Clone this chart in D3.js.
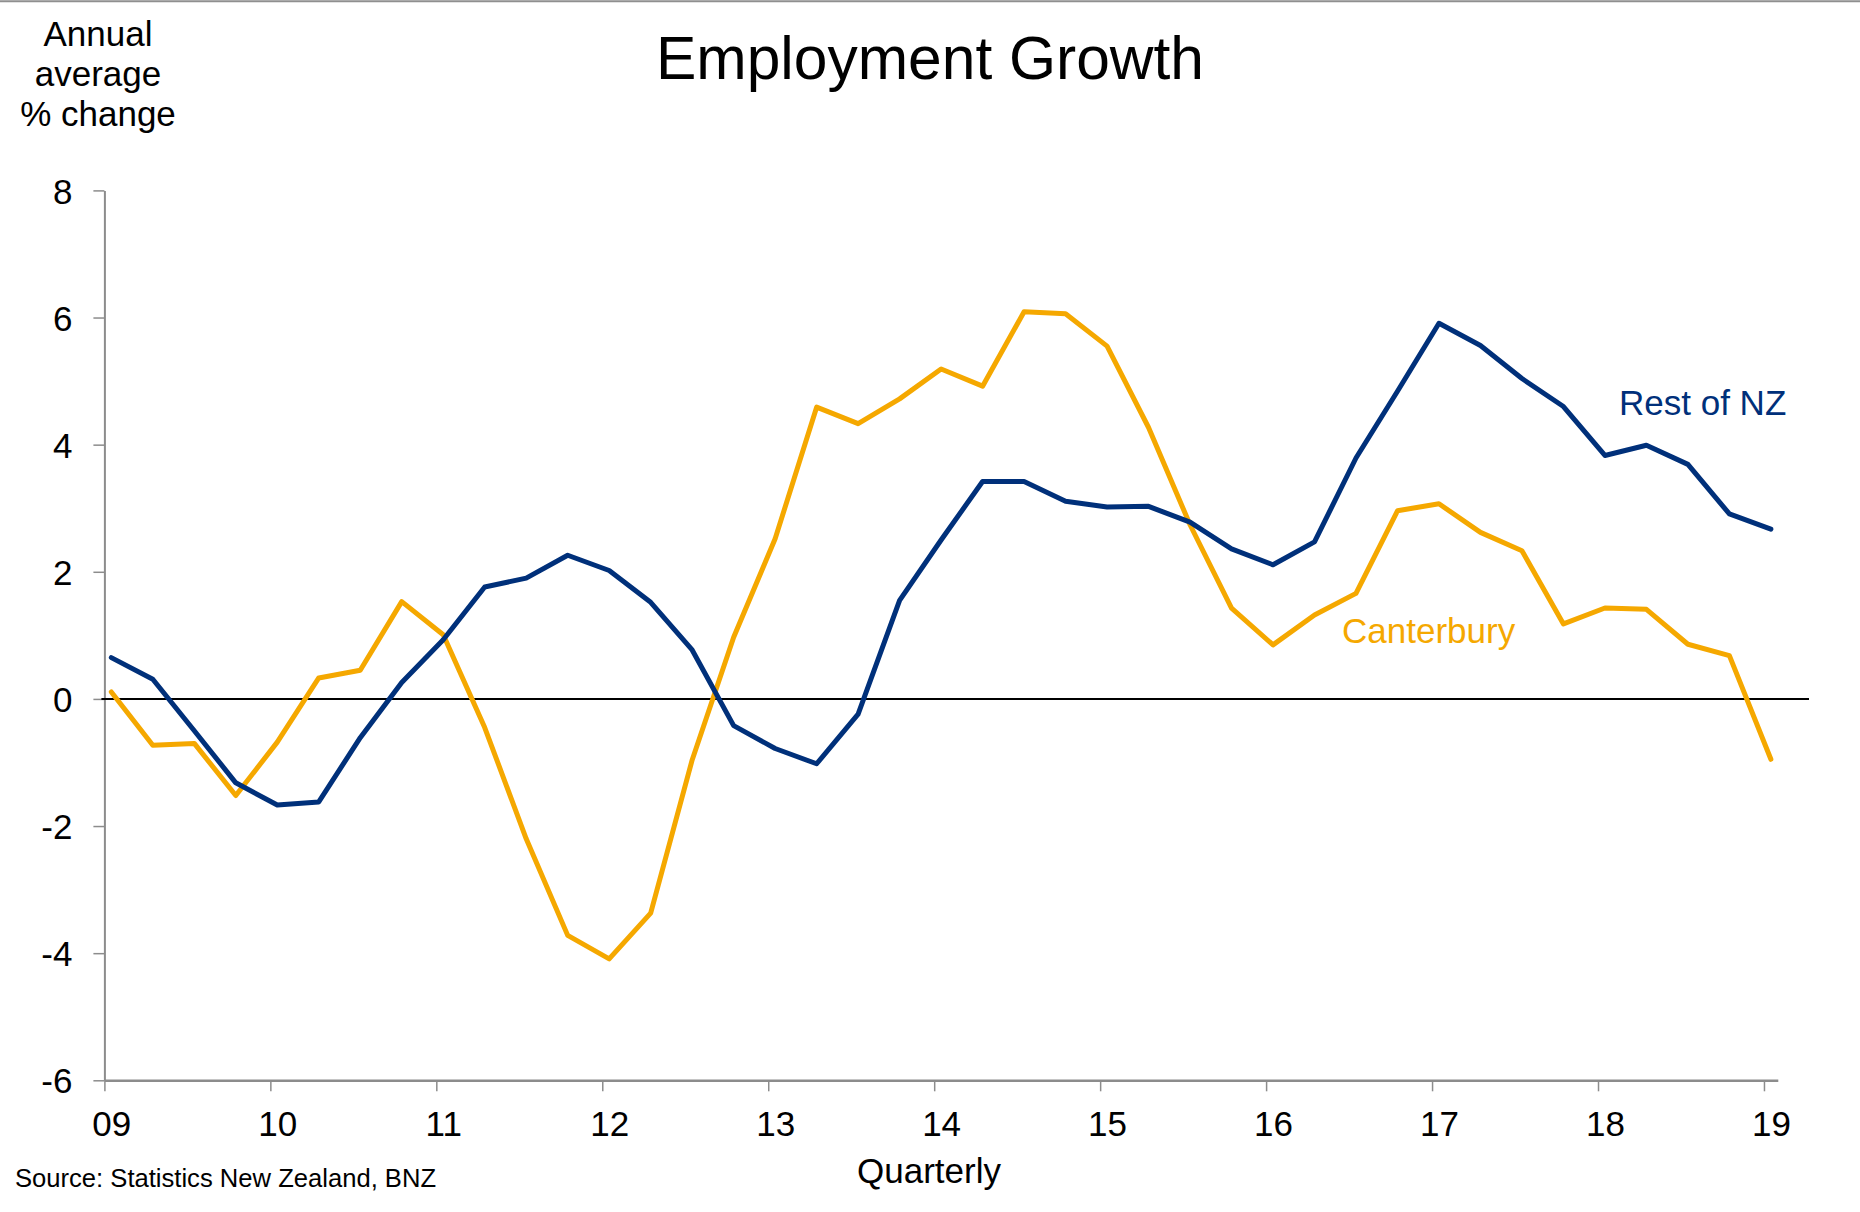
<!DOCTYPE html>
<html>
<head>
<meta charset="utf-8">
<script src="https://cdn.jsdelivr.net/npm/d3@7"></script>
<style>
  html, body { margin: 0; padding: 0; background: #ffffff; }
  svg { display: block; }
  text { font-family: "Liberation Sans", Arial, Helvetica, sans-serif; }
</style>
</head>
<body>
<script>
// ---- Data (annual average % change, quarterly, 2009Q1 .. 2019Q1) ----
const years = [2009, 2010, 2011, 2012, 2013, 2014, 2015, 2016, 2017, 2018, 2019];
const yearLabels = ["09", "10", "11", "12", "13", "14", "15", "16", "17", "18", "19"];
const yTicks = [-6, -4, -2, 0, 2, 4, 6, 8];

const quarters = [];
for (let yr = 2009; yr <= 2019; yr++) {
  for (let q = 1; q <= 4; q++) {
    if (yr === 2019 && q > 1) break;
    quarters.push({ year: yr, q: q });
  }
}

const restOfNZ = [
  0.65, 0.31, -0.50, -1.32,
  -1.67, -1.62, -0.61, 0.26,
  0.93, 1.76, 1.90, 2.26,
  2.02, 1.52, 0.77, -0.42,
  -0.78, -1.02, -0.24, 1.55,
  2.50, 3.42, 3.42, 3.11,
  3.02, 3.03, 2.78, 2.36,
  2.11, 2.47, 3.79, 4.84,
  5.91, 5.56, 5.04, 4.60,
  3.83, 3.99, 3.69, 2.91,
  2.67
];

const canterbury = [
  0.11, -0.73, -0.70, -1.52,
  -0.68, 0.33, 0.45, 1.53,
  1.01, -0.45, -2.20, -3.72,
  -4.09, -3.37, -0.96, 0.97,
  2.52, 4.59, 4.33, 4.72,
  5.19, 4.92, 6.09, 6.06,
  5.55, 4.27, 2.74, 1.43,
  0.85, 1.32, 1.66, 2.96,
  3.07, 2.62, 2.33, 1.18,
  1.43, 1.41, 0.86, 0.68,
  -0.95
];

const seriesNames = ["Rest of NZ", "Canterbury"];
const colors = { "Rest of NZ": "#00307A", "Canterbury": "#F5A800" };

// ---- Layout ----
const W = 1860, H = 1212;
const svg = d3.select("body").append("svg").attr("width", W).attr("height", H);
svg.append("rect").attr("width", W).attr("height", H).attr("fill", "#ffffff");

// top border line
svg.append("line").attr("x1", 0).attr("x2", W).attr("y1", 1.2).attr("y2", 1.2)
  .attr("stroke", "#8f8f8f").attr("stroke-width", 2);

const halfMonth = 1 / 24;
const x = d3.scaleLinear().domain([2009, 2019 + 1 / 12]).range([104.4, 1777.8]);
const y = d3.scaleLinear().domain([-6, 8]).range([1080.3, 190.4]);
const tOf = d => d.year + (d.q - 1) / 4 + halfMonth;

// ---- Axes ----
const axisColor = "#8c8c8c";
const yAxis = svg.append("g").attr("transform", `translate(${x(2009)},0)`)
  .call(d3.axisLeft(y).tickValues(yTicks).tickSize(11).tickSizeOuter(0).tickPadding(21)
    .tickFormat(d => d));
yAxis.select(".domain").attr("stroke", axisColor).attr("stroke-width", 2);
yAxis.selectAll(".tick line").attr("stroke", axisColor).attr("stroke-width", 1.5);
yAxis.selectAll(".tick text").attr("font-size", 35).attr("fill", "#000")
  .attr("font-family", "Liberation Sans, Arial, sans-serif").attr("dy", "0.36em");

const xAxis = svg.append("g").attr("transform", `translate(0,${y(-6)})`)
  .call(d3.axisBottom(x).tickValues(years).tickSize(11).tickSizeOuter(0).tickPadding(0)
    .tickFormat((d, i) => yearLabels[i]));
xAxis.select(".domain").attr("stroke", axisColor).attr("stroke-width", 2.5);
xAxis.selectAll(".tick line").attr("stroke", axisColor).attr("stroke-width", 1.5);
xAxis.selectAll(".tick text")
  .attr("x", d => x(d + halfMonth) - x(d))
  .attr("y", 56).attr("dy", 0)
  .attr("font-size", 35).attr("fill", "#000")
  .attr("font-family", "Liberation Sans, Arial, sans-serif");

// zero line
svg.append("line")
  .attr("x1", x(2009) - 3).attr("x2", 1809)
  .attr("y1", y(0)).attr("y2", y(0))
  .attr("stroke", "#000").attr("stroke-width", 2);

// ---- Lines ----
const line = d3.line().x(d => x(tOf(d))).y(d => y(d.v));
const seriesData = {
  "Rest of NZ": quarters.map((d, i) => ({ ...d, v: restOfNZ[i] })),
  "Canterbury": quarters.map((d, i) => ({ ...d, v: canterbury[i] }))
};
["Canterbury", "Rest of NZ"].forEach(name => {
  svg.append("path").datum(seriesData[name])
    .attr("d", line)
    .attr("fill", "none")
    .attr("stroke", colors[name])
    .attr("stroke-width", 5)
    .attr("stroke-linejoin", "round")
    .attr("stroke-linecap", "round");
});

// ---- Series labels ----
svg.append("text").text("Rest of NZ")
  .attr("x", 1619).attr("y", 415).attr("font-size", 35).attr("fill", colors["Rest of NZ"]);
svg.append("text").text("Canterbury")
  .attr("x", 1342).attr("y", 643).attr("font-size", 35).attr("fill", colors["Canterbury"]);

// ---- Titles ----
svg.append("text").text("Employment Growth")
  .attr("x", 930).attr("y", 79).attr("text-anchor", "middle")
  .attr("font-size", 60.5).attr("fill", "#000");

const yTitle = ["Annual", "average", "% change"];
svg.append("g").selectAll("text").data(yTitle).join("text")
  .text(d => d)
  .attr("x", 98).attr("y", (d, i) => 46 + i * 40)
  .attr("text-anchor", "middle").attr("font-size", 35).attr("fill", "#000");

svg.append("text").text("Quarterly")
  .attr("x", 929).attr("y", 1183).attr("text-anchor", "middle")
  .attr("font-size", 35).attr("fill", "#000");

svg.append("text").text("Source: Statistics New Zealand, BNZ")
  .attr("x", 15).attr("y", 1187).attr("font-size", 25.6).attr("fill", "#000");
</script>
</body>
</html>
